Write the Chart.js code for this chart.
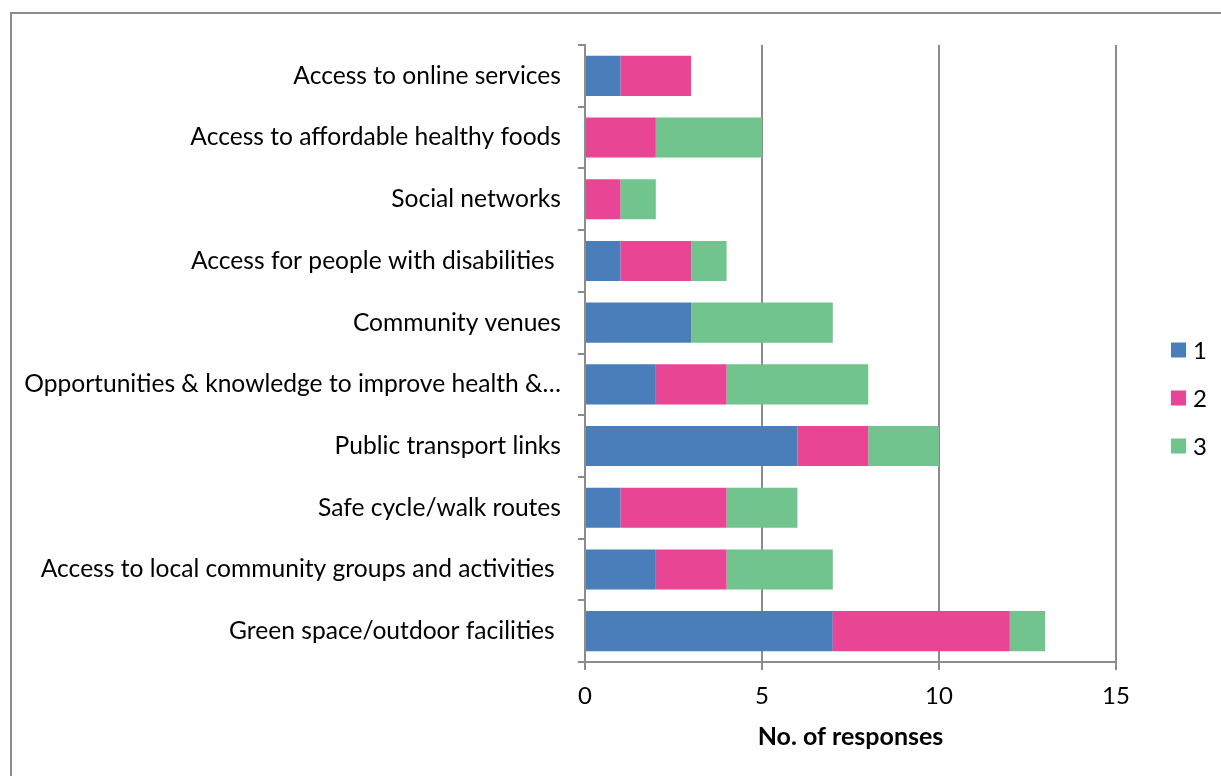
<!DOCTYPE html>
<html>
<head>
<meta charset="utf-8">
<script src="https://cdn.jsdelivr.net/npm/chart.js@4/dist/chart.umd.min.js"></script>
<style>
  html, body { margin: 0; padding: 0; background: #fff; overflow: hidden; }
  #wrap { position: relative; width: 1221px; height: 776px; }
  #frame { position: absolute; left: 10px; top: 12px; right: -4px; bottom: -4px;
           border: 2px solid #8c8c8c; pointer-events: none; }
  canvas { position: absolute; left: 0; top: 0; }
</style>
</head>
<body>
<div id="wrap">
  <canvas id="chart" width="1221" height="776"></canvas>
  <div id="frame"></div>
</div>
<script>
const categories = [
    "Access to online services",
    "Access to affordable healthy foods",
    "Social networks",
    "Access for people with disabilities ",
    "Community venues",
    "Opportunities & knowledge to improve health &\u2026",
    "Public transport links",
    "Safe cycle/walk routes",
    "Access to local community groups and activities ",
    "Green space/outdoor facilities "
];
const seriesNames = ["1", "2", "3"];
const rank1 = [1, 0, 0, 1, 3, 2, 6, 1, 2, 7];
const rank2 = [2, 2, 1, 2, 0, 2, 2, 3, 2, 5];
const rank3 = [0, 3, 1, 1, 4, 4, 2, 2, 3, 1];
const xTicks = [0, 5, 10, 15];
const colors = ["#4a7ebb", "#e84595", "#71c48e"];

const axisGrey = "#8c8c8c";
const fontFamily = "Lato, 'Open Sans', sans-serif";
const fontSize = 24.6;
Chart.defaults.font.family = fontFamily;
Chart.defaults.color = "#000";

// legend on the right: a column of square swatches with the series names
const sideLegend = {
    id: "sideLegend",
    afterDraw(chart) {
        const ctx = chart.ctx;
        const x = 1171, box = 15, step = 48;
        const midY = 398;
        const sets = chart.data.datasets;
        ctx.save();
        ctx.font = "24px " + fontFamily;
        ctx.textBaseline = "middle";
        sets.forEach((ds, i) => {
            const y = midY + (i - (sets.length - 1) / 2) * step;
            ctx.fillStyle = ds.backgroundColor;
            ctx.fillRect(x, y - box / 2, box, box);
            ctx.fillStyle = "#000";
            ctx.fillText(ds.label, x + box + 7, y + 1);
        });
        ctx.restore();
    }
};

new Chart(document.getElementById("chart"), {
    type: "bar",
    data: {
        labels: categories,
        datasets: [rank1, rank2, rank3].map((vals, i) => ({
            label: seriesNames[i],
            data: vals,
            backgroundColor: colors[i],
            barPercentage: 0.65,
            categoryPercentage: 1
        }))
    },
    plugins: [sideLegend],
    options: {
        indexAxis: "y",
        responsive: false,
        animation: false,
        layout: { padding: { top: 45, right: 105, bottom: 0, left: 0 } },
        plugins: {
            tooltip: { enabled: false },
            legend: { display: false }
        },
        scales: {
            x: {
                stacked: true,
                min: 0,
                max: 15,
                afterBuildTicks: s => { s.ticks = xTicks.map(v => ({ value: v })); },
                afterFit: s => { s.height = 114; },
                grid: {
                    color: axisGrey,
                    lineWidth: 2,
                    tickLength: 8,
                    drawOnChartArea: true
                },
                border: { color: axisGrey, width: 2 },
                ticks: { font: { size: 24 }, padding: 12 },
                title: {
                    display: true,
                    text: "No. of responses",
                    font: { size: 25, weight: "bold" },
                    padding: { top: 4, bottom: 24 }
                }
            },
            y: {
                stacked: true,
                afterFit: s => { s.width = 585; },
                grid: {
                    color: axisGrey,
                    lineWidth: 2,
                    offset: true,
                    tickLength: 7,
                    drawOnChartArea: false
                },
                border: { color: axisGrey, width: 2 },
                ticks: { font: { size: fontSize }, padding: 17, autoSkip: false }
            }
        }
    }
});
</script>
</body>
</html>
